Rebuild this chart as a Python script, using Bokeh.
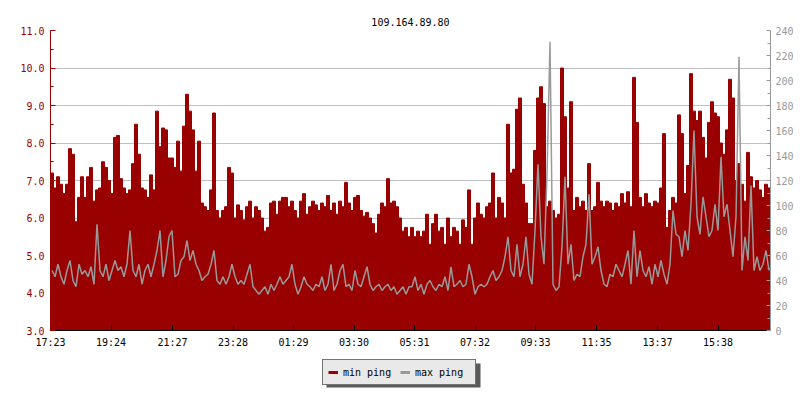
from bokeh.plotting import figure
from bokeh.layouts import column
from bokeh.models import (Range1d, LinearAxis, FixedTicker, SingleIntervalTicker,
                          PrintfTickFormatter, Legend, LegendItem, BoxAnnotation)
from bokeh.embed import file_html
from bokeh.resources import INLINE

# sample times: minutes after 17:23 (one sample each 6 minutes over 24 h)
minutes = list(range(3, 1440, 6))

# min ping (ms, left axis)
min_ping = [
    7.2, 6.8, 7.1, 6.9, 6.65, 6.9, 7.85, 7.7, 5.9, 6.55,
    7.1, 6.55, 7.1, 7.35, 6.45, 6.75, 6.8, 7.5, 7.35, 7.0,
    6.65, 8.15, 8.2, 7.05, 6.8, 6.65, 6.75, 7.45, 8.5, 7.7,
    6.8, 6.75, 6.55, 7.15, 6.75, 8.85, 7.9, 8.4, 8.35, 7.6,
    7.6, 7.35, 8.05, 7.25, 8.45, 9.3, 8.85, 8.35, 7.25, 8.05,
    6.4, 6.3, 6.2, 6.75, 8.8, 6.2, 6.0, 6.2, 6.3, 7.35,
    7.2, 6.0, 6.35, 6.2, 5.95, 6.3, 6.45, 6.0, 6.3, 6.2,
    6.0, 5.65, 5.75, 6.4, 6.45, 6.1, 6.45, 6.55, 6.55, 6.3,
    6.45, 6.2, 6.0, 6.45, 6.65, 6.1, 6.3, 6.45, 6.35, 6.2,
    6.4, 6.3, 6.6, 6.2, 6.4, 6.1, 6.45, 6.3, 6.95, 6.4,
    6.2, 6.55, 6.6, 6.2, 6.05, 6.15, 6.0, 5.85, 5.6, 6.1,
    6.4, 6.3, 7.05, 6.4, 6.45, 6.3, 6.0, 5.65, 5.75, 5.5,
    5.75, 5.5, 5.65, 5.5, 5.65, 6.1, 5.3, 5.85, 6.1, 5.65,
    5.75, 5.3, 6.0, 5.5, 5.75, 5.65, 5.3, 5.95, 5.75, 6.75,
    5.3, 6.0, 6.4, 6.1, 6.0, 6.3, 6.4, 7.2, 6.0, 6.55,
    6.4, 6.0, 8.5, 7.2, 7.3, 8.9, 9.2, 6.9, 6.4, 5.85,
    5.85, 7.8, 9.2, 9.5, 9.05, 6.3, 6.45, 6.2, 6.0, 6.1,
    10.0, 8.7, 6.8, 9.1, 6.2, 6.55, 6.3, 6.45, 6.2, 7.45,
    6.2, 6.3, 6.95, 6.45, 6.3, 6.45, 6.4, 6.2, 6.4, 6.3,
    6.65, 6.4, 6.7, 6.3, 9.75, 8.55, 6.55, 6.3, 6.65, 6.4,
    6.3, 6.45, 6.4, 6.8, 8.25, 5.75, 6.2, 6.55, 6.4, 8.75,
    8.25, 6.65, 7.4, 9.85, 8.85, 8.6, 8.85, 8.15, 7.6, 8.55,
    9.1, 8.8, 8.7, 8.0, 7.7, 8.35, 9.7, 9.2, 7.0, 7.45,
    6.9, 6.45, 7.75, 7.1, 6.8, 7.0, 6.75, 6.55, 6.9, 6.8,
]

# max ping (ms, right axis)
max_ping = [
    48, 43, 53, 43, 37, 48, 56, 40, 35, 53,
    45, 48, 43, 51, 37, 85, 48, 43, 53, 40,
    48, 56, 48, 51, 43, 53, 80, 48, 43, 53,
    37, 48, 53, 43, 53, 64, 80, 43, 56, 75,
    80, 43, 45, 56, 59, 72, 56, 64, 53, 48,
    40, 43, 45, 53, 64, 40, 37, 43, 37, 43,
    53, 43, 37, 40, 37, 45, 53, 35, 32, 29,
    32, 35, 29, 37, 32, 37, 43, 37, 40, 43,
    53, 37, 29, 35, 43, 37, 35, 32, 37, 35,
    43, 32, 37, 53, 32, 37, 48, 53, 35, 37,
    32, 48, 37, 35, 43, 51, 37, 32, 35, 37,
    32, 35, 37, 32, 35, 29, 32, 35, 29, 35,
    35, 43, 32, 37, 29, 37, 40, 35, 32, 37,
    35, 43, 32, 51, 35, 37, 40, 35, 37, 53,
    43, 29, 35, 37, 35, 37, 43, 48, 40, 43,
    48, 59, 75, 48, 43, 69, 43, 53, 75, 45,
    37, 80, 133, 75, 53, 125, 231, 37, 32, 35,
    67, 123, 53, 69, 40, 45, 43, 59, 69, 109,
    53, 59, 67, 48, 37, 35, 45, 43, 53, 48,
    43, 53, 64, 37, 80, 43, 64, 48, 43, 51,
    37, 53, 43, 56, 45, 37, 53, 96, 77, 75,
    59, 80, 64, 101, 160, 91, 77, 107, 91, 75,
    80, 101, 80, 139, 91, 101, 80, 59, 91, 219,
    48, 75, 56, 116, 48, 59, 48, 53, 64, 48,
]

tick_minutes = [0, 121, 244, 365, 486, 607, 728, 849, 970, 1092, 1214, 1335]
tick_labels = ["17:23", "19:24", "21:27", "23:28", "01:29", "03:30",
               "05:31", "07:32", "09:33", "11:35", "13:37", "15:38"]

RED = "#990000"
GRAY = "#999999"
FONT = "DejaVu Sans Mono"
FS = "10px"

p = figure(width=800, height=355, output_backend="svg", toolbar_location=None,
           x_range=Range1d(0, 1440), y_range=Range1d(3, 11),
           min_border_left=50, min_border_right=30, min_border_top=30,
           min_border_bottom=25, title="109.164.89.80")
p.extra_y_ranges = {"ms": Range1d(0, 240)}
p.outline_line_color = None
p.xgrid.visible = False
p.ygrid.grid_line_color = "#c0c0c0"

p.title.align = "center"
p.title.text_font = FONT
p.title.text_font_size = FS
p.title.text_font_style = "normal"
p.title.text_color = "black"
p.title.padding = (0, 0, 8, 0)

p.vbar(x=minutes, top=min_ping, bottom=0, width=6, fill_color=RED,
       line_color=RED, line_width=1)
p.line(minutes, max_ping, y_range_name="ms", line_color=GRAY, line_width=1.5)

# left axis
ya = p.yaxis[0]
ya.ticker = SingleIntervalTicker(interval=1, num_minor_ticks=2)
ya.formatter = PrintfTickFormatter(format="%.1f")
ya.axis_line_color = RED
ya.major_tick_line_color = RED
ya.minor_tick_line_color = RED
ya.major_label_text_color = RED
ya.major_tick_in = 5
ya.major_tick_out = 0
ya.minor_tick_in = 3
ya.minor_tick_out = 0
ya.major_label_standoff = 6
ya.major_label_text_font = FONT
ya.major_label_text_font_size = FS

# right axis
ra = LinearAxis(y_range_name="ms",
                ticker=SingleIntervalTicker(interval=20, num_minor_ticks=2))
ra.axis_line_color = GRAY
ra.major_tick_line_color = GRAY
ra.minor_tick_line_color = GRAY
ra.major_label_text_color = GRAY
ra.major_tick_in = 4
ra.major_tick_out = 0
ra.minor_tick_in = 3
ra.minor_tick_out = 0
ra.major_label_standoff = 5
ra.major_label_text_font = FONT
ra.major_label_text_font_size = FS
p.add_layout(ra, "right")

# bottom axis
xa = p.xaxis[0]
xa.ticker = FixedTicker(ticks=tick_minutes, minor_ticks=[])
xa.major_label_overrides = {t: l for t, l in zip(tick_minutes, tick_labels)}
xa.axis_line_color = "black"
xa.major_tick_line_color = "black"
xa.major_tick_in = 5
xa.major_tick_out = 0
xa.major_label_standoff = 6
xa.major_label_text_font = FONT
xa.major_label_text_font_size = FS
xa.major_label_text_color = "black"

# legend strip (separate figure so the legend and its shadow are not clipped)
q = figure(width=800, height=45, output_backend="svg", toolbar_location=None,
           x_axis_type=None, y_axis_type=None, min_border=0,
           x_range=Range1d(0, 1), y_range=Range1d(0, 1))
q.outline_line_color = None
q.xgrid.visible = False
q.ygrid.visible = False

shadow = BoxAnnotation(left=326, right=480, top=8, bottom=32,
                       left_units="canvas", right_units="canvas",
                       top_units="canvas", bottom_units="canvas",
                       fill_color="#5a5a5a", fill_alpha=1, line_color=None,
                       level="annotation")
q.add_layout(shadow)

nan = float("nan")
lr = q.line(x=[nan], y=[nan], line_color=RED, line_width=3)
lg = q.line(x=[nan], y=[nan], line_color=GRAY, line_width=3)
legend = Legend(items=[LegendItem(label="min ping", renderers=[lr]),
                       LegendItem(label="max ping", renderers=[lg])],
                orientation="horizontal", location=(272, 15),
                border_line_color="black", border_line_width=1,
                background_fill_color="#e9e9e9", background_fill_alpha=1,
                padding=5, spacing=2, label_standoff=5, glyph_width=10,
                glyph_height=14, label_height=14, label_width=55,
                label_text_font=FONT, label_text_font_size=FS,
                label_text_color="black", margin=0)
q.add_layout(legend, "center")

open("out.html", "w").write(file_html(column(p, q, spacing=0), INLINE))
